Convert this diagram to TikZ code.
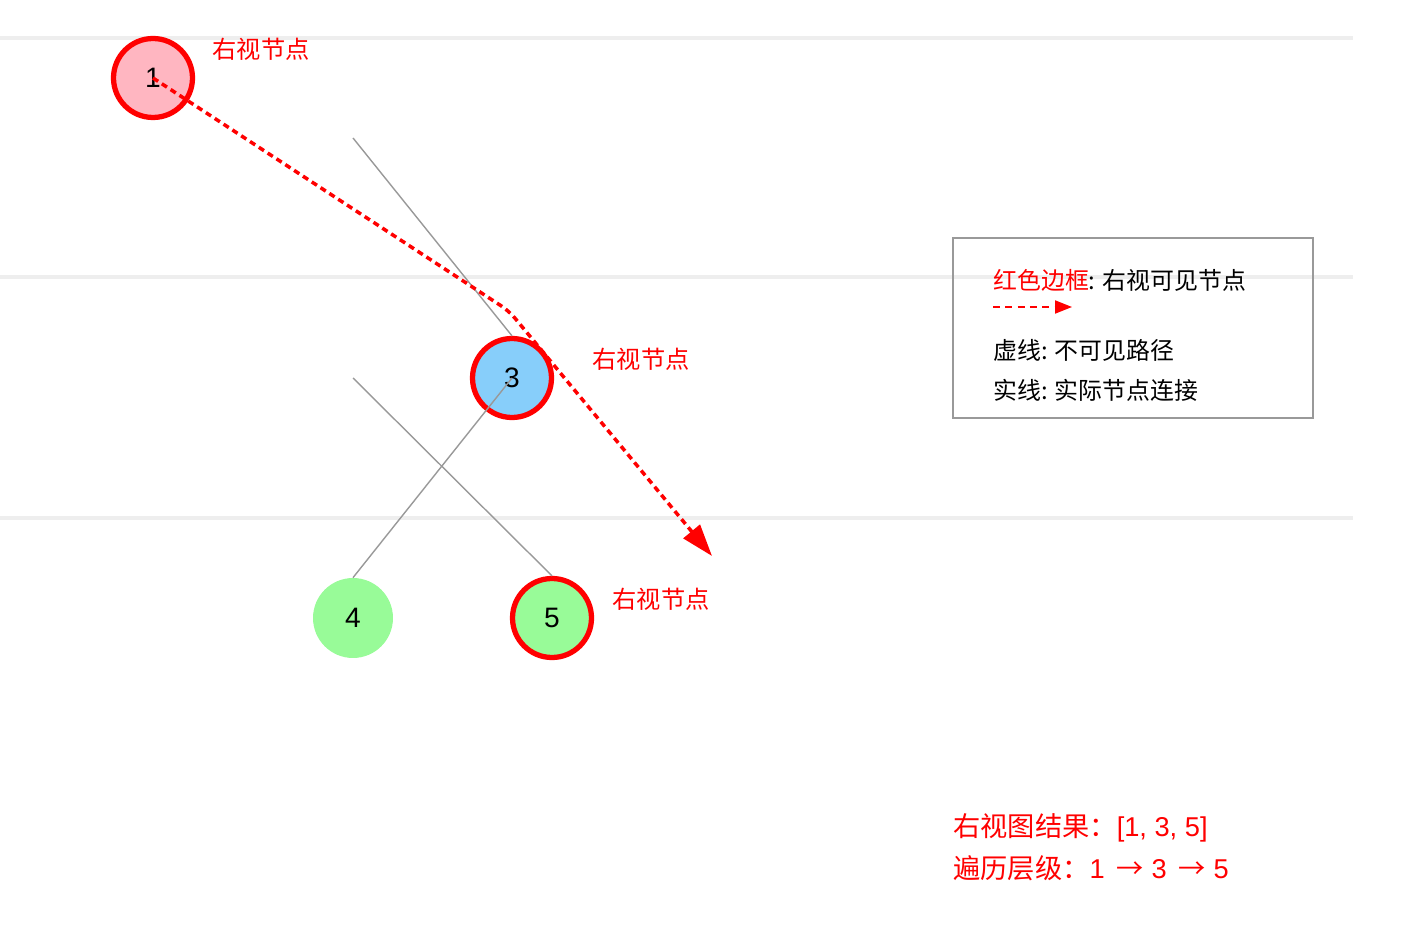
\documentclass[tikz,border=0pt]{standalone}
\usepackage{fontspec}
\setmainfont{Liberation Sans}
\newfontfamily\cjk{Noto Sans CJK SC}
\usetikzlibrary{arrows.meta}
\definecolor{viewred}{HTML}{FF0000}
\definecolor{pinkfill}{HTML}{FFB6C1}
\definecolor{bluefill}{HTML}{87CEFA}
\definecolor{greenfill}{HTML}{98FB98}
\definecolor{levelgray}{HTML}{EEEEEE}
\definecolor{edgegray}{HTML}{999999}
\begin{document}
\begin{tikzpicture}[x=0.02cm, y=-0.02cm,
		treenode/.style={circle, minimum size=1.6cm, inner sep=0pt, font=\fontsize{16}{18}\selectfont},
		rightview/.style={treenode, minimum size=1.58cm, draw=viewred, line width=3pt},
		viewlabel/.style={text=viewred, font=\cjk\fontsize{13.8}{15}\selectfont},
		legendtext/.style={anchor=west, inner sep=0pt, font=\cjk\fontsize{13.6}{15}\selectfont},
		resulttext/.style={anchor=west, inner sep=0pt, text=viewred, font=\fontsize{15.5}{17}\selectfont},
		treeedge/.style={draw=edgegray, line width=0.8pt},
		levelline/.style={draw=levelgray, line width=1.8pt}]
			\useasboundingbox (0,0) rectangle (1416,952);
			
			% level lines
			\draw[levelline] (0,38) -- (1353,38);
			\draw[levelline] (0,277) -- (1353,277);
			\draw[levelline] (0,518) -- (1353,518);
			
			\node[rightview, fill=pinkfill] (n1) at (153,78) {1};
			\node[rightview, fill=bluefill] (n3) at (512,378) {3};
			\node[treenode, fill=greenfill] (n4) at (353,618) {4};
			\node[rightview, fill=greenfill] (n5) at (552,618) {5};
			
			\node[viewlabel] (lab1) at (261,49) {右视节点};
			\node[viewlabel] (lab3) at (641,359) {右视节点};
			\node[viewlabel] (lab5) at (661,599) {右视节点};
			
			\coordinate (e1s) at (353,138);
			\coordinate (e5s) at (353,378);
			\draw[treeedge] (e1s) -- (n3.north);
			\draw[treeedge] (n3.center) -- (n4.north);
			\draw[treeedge] (e5s) -- (n5.north);
			
			% right view path
			\coordinate (bend) at (509,311);
			\coordinate (tip) at (712,556);
			\draw[viewred, line width=2pt, dash pattern=on 3.5pt off 2.5pt, rounded corners=5pt,
				-{Triangle[length=0.64cm, width=0.42cm]}] (n1.center) -- (bend) -- (tip);
			
			% legend
			\draw[edgegray, line width=0.8pt] (953,238) rectangle (1313,418);
			\node[legendtext] (leg1) at (993,280) {\textcolor{viewred}{红色边框}: 右视可见节点};
			\coordinate (lega) at (993,307);
			\coordinate (legb) at (1072,307);
			\draw[viewred, line width=1.1pt, dash pattern=on 4pt off 3pt,
				-{Triangle[length=0.34cm, width=0.26cm]}] (lega) -- (legb);
			\node[legendtext] (leg2) at (993,350) {虚线: 不可见路径};
			\node[legendtext] (leg3) at (993,390) {实线: 实际节点连接};
			
			\node[resulttext] (res1) at (953,828) {{\cjk 右视图结果：}[1, 3, 5]};
			\node[resulttext] (res2) at (953,868) {{\cjk 遍历层级：}1 {\cjk\,→} 3 {\cjk\,→} 5};
			
		\end{tikzpicture}
\end{document}
